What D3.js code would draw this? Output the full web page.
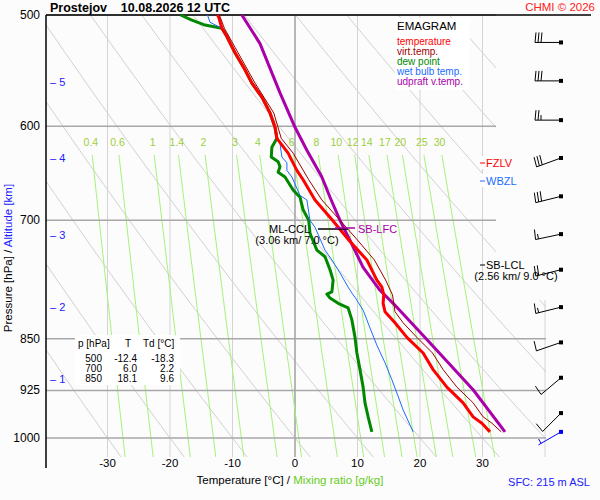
<!DOCTYPE html>
<html>
<head>
<meta charset="utf-8">
<script src="https://cdn.jsdelivr.net/npm/d3@7"></script>
<style>
  body { margin: 0; background: #fcfcfc; }
  text { font-family: "Liberation Sans", Arial, sans-serif; }
</style>
</head>
<body>
<div id="chart"></div>
<script>
// sounding (hPa / degC)
const tempP  = [500, 502, 511, 518, 532, 547, 559, 572, 587, 601, 612, 627, 645, 655, 677, 700, 723, 747, 772, 781, 791, 802, 813, 828, 848, 870, 894, 920, 944, 966, 976, 990];
const tempT  = [-12.4, -12.2, -11.7, -10.9, -9.6, -8.0, -6.9, -5.3, -4.0, -3.2, -2.9, -1.1, 0.3, 1.3, 3.2, 6.0, 8.6, 11.5, 13.1, 13.9, 14.2, 14.1, 14.4, 16.0, 17.9, 20.5, 22.1, 24.3, 26.9, 28.5, 29.9, 31.2];
const virtP  = [500, 511, 532, 559, 587, 612, 627, 655, 677, 700, 723, 747, 772, 791, 813, 828, 848, 870, 894, 920, 944, 966, 976, 990];
const virtT  = [-12.1, -11.3, -9.1, -6.4, -3.4, -2.2, -0.3, 2.2, 4.3, 7.2, 10.0, 12.7, 14.5, 15.6, 16.0, 17.3, 19.5, 22.0, 23.7, 25.9, 28.5, 30.1, 31.5, 33.0];
const dewP   = [500, 504, 508, 511, 518, 532, 547, 559, 572, 587, 601, 612, 621, 631, 636, 641, 647, 652, 666, 674, 688, 700, 715, 735, 743, 759, 772, 787, 790, 795, 802, 808, 824, 848, 870, 894, 920, 944, 966, 990];
const dewT   = [-18.3, -16.6, -14.6, -11.7, -10.9, -9.6, -8.0, -6.9, -5.3, -4.0, -3.2, -2.9, -3.7, -3.8, -2.7, -2.4, -2.7, -1.6, -0.3, 0.8, 1.3, 2.2, 2.4, 3.5, 4.8, 5.6, 6.1, 5.9, 5.1, 5.6, 6.9, 8.5, 9.1, 9.6, 9.9, 10.4, 10.9, 11.2, 11.7, 12.3];
const wetP   = [500, 506, 511, 518, 532, 547, 559, 572, 587, 601, 612, 617, 631, 637, 645, 652, 672, 677, 700, 708, 735, 747, 763, 781, 791, 794, 811, 835, 859, 884, 909, 929, 955, 990];
const wetT   = [-14.0, -13.6, -11.7, -10.9, -9.6, -8.0, -6.9, -5.3, -4.0, -3.2, -2.9, -2.4, -2.1, -1.3, -1.3, -0.5, 0.8, 1.9, 2.4, 3.2, 4.8, 5.9, 7.2, 8.5, 9.3, 9.6, 10.9, 12.0, 13.1, 14.4, 15.5, 16.3, 17.3, 18.9];
const parcelP = [500, 524, 568, 601, 624, 652, 674, 700, 731, 756, 785, 802, 851, 924, 990];
const parcelT = [-8.5, -5.6, -2.4, 0.0, 1.9, 4.3, 5.6, 7.2, 9.3, 10.9, 13.6, 15.7, 21.1, 28.5, 33.6];

// winds: pressure (hPa), direction (deg), speed (kt)
const windP   = [523, 557, 594, 632, 673, 716, 759, 807, 855, 906, 960, 990];
const windDir = [270, 270, 270, 250, 256, 258, 256, 256, 251, 230, 225, 240];
const windSpd = [30, 30, 25, 30, 30, 15, 20, 15, 10, 10, 10, 5];

const pLevels   = [500, 600, 700, 850, 925, 1000];
const tTicks    = [-30, -20, -10, 0, 10, 20, 30];
const mixRatios = [0.4, 0.6, 1, 1.4, 2, 3, 4, 6, 8, 10, 12, 14, 17, 20, 25, 30];
const altKm     = [5, 4, 3, 2, 1];
const altY      = [82, 158, 235, 307, 379];
const tableRows = [["500", "-12.4", "-18.3"], ["700", "6.0", "2.2"], ["850", "18.1", "9.6"]];
const legend = [["temperature", "#ff0000"], ["virt.temp.", "#a00000"], ["dew point", "#008800"],
                ["wet bulb temp.", "#1a6cff"], ["udpraft v.temp.", "#aa00aa"]];

const width = 600, height = 500;
const y = d3.scaleLog().domain([500, 1000]).range([15, 438]);
const x = d3.scaleLinear().domain([0, 10]).range([295, 357.5]);
const pBottom = y.invert(457);

const svg = d3.select("#chart").append("svg")
  .attr("width", width).attr("height", height);

svg.append("clipPath").attr("id", "plot")
  .append("polygon").attr("points", "46,15 496,15 496,300 546,300 546,457 46,457");

const grid = svg.append("g").attr("clip-path", "url(#plot)");

// dry adiabats
const pSteps = d3.range(480, 1041, 10);
const line = d3.line().x(d => x(d[0])).y(d => y(d[1]));
for (let th = -30; th <= 150; th += 10) {
  grid.append("path")
    .attr("d", line(pSteps.map(p => [(th + 273.15) * Math.pow(p / 1000, 0.286) - 273.15, p])))
    .attr("fill", "none").attr("stroke", "#d0d0d0").attr("stroke-width", 1);
}

// isotherms
for (let t = -40; t <= 40; t += 10) {
  grid.append("line")
    .attr("x1", x(t)).attr("x2", x(t)).attr("y1", 15).attr("y2", 457)
    .attr("stroke", t === 0 ? "#a0a0a0" : "#d4d4d4").attr("stroke-width", t === 0 ? 1.5 : 1);
}

// mixing ratio lines
function tdFromW(w, p) {
  const e = w * p / (622 + w), a = Math.log(e / 6.112);
  return 243.5 * a / (17.67 - a);
}
const pMixTop = y.invert(155);
mixRatios.forEach(w => {
  grid.append("path")
    .attr("d", line([pMixTop, 700, 850, pBottom].map(p => [tdFromW(w, p), p])))
    .attr("fill", "none").attr("stroke", "#a6f27a").attr("stroke-width", 1);
  svg.append("text")
    .attr("x", x(tdFromW(w, y.invert(142)))).attr("y", 146)
    .attr("text-anchor", "middle").attr("font-size", 10.5).attr("fill", "#9ccf3a")
    .text(w);
});

// pressure lines
pLevels.forEach(p => {
  svg.append("line")
    .attr("x1", 46).attr("x2", p >= 850 ? 546 : 496).attr("y1", y(p)).attr("y2", y(p))
    .attr("stroke", "#a8a8a8").attr("stroke-width", 1.5);
  svg.append("text").attr("x", 40).attr("y", y(p) + 4)
    .attr("text-anchor", "end").attr("font-size", 12).text(p);
});

// frame
svg.append("line").attr("x1", 46).attr("x2", 591).attr("y1", 15).attr("y2", 15).attr("stroke", "#000").attr("stroke-width", 1.5);
svg.append("line").attr("x1", 46).attr("x2", 46).attr("y1", 15).attr("y2", 468).attr("stroke", "#000").attr("stroke-width", 1.5);

tTicks.forEach(t => {
  svg.append("text").attr("x", x(t)).attr("y", 467).attr("text-anchor", "middle")
    .attr("font-size", 11.5).text(t);
});

altKm.forEach((k, i) => {
  svg.append("text").attr("x", 50).attr("y", altY[i] + 4).attr("font-size", 11)
    .attr("fill", "#2020ff").text("\u2013 " + k);
});

// profiles
const prof = d3.line().x(d => x(d[1])).y(d => y(d[0]));
const draw = (ps, ts, color, w) => svg.append("path")
  .attr("d", prof(d3.zip(ps, ts))).attr("fill", "none")
  .attr("stroke", color).attr("stroke-width", w).attr("stroke-linejoin", "round");
draw(dewP, dewT, "#008800", 3);
draw(wetP, wetT, "#1a6cff", 1);
draw(parcelP, parcelT, "#aa00aa", 3);
draw(tempP, tempT, "#ff0000", 3);
draw(virtP, virtT, "#a00000", 1);

// wind barbs
windP.forEach((p, i) => {
  const cy = y(p), cx = 561, d = windDir[i] * Math.PI / 180;
  const ux = Math.sin(d), uy = -Math.cos(d);
  const bx = -uy, by = ux;
  const col = i === windP.length - 1 ? "#0000ff" : "#000";
  const g = svg.append("g").attr("stroke", col).attr("fill", col);
  const L = 26;
  g.append("line").attr("x1", cx).attr("y1", cy).attr("x2", cx + ux * L).attr("y2", cy + uy * L);
  g.append("rect").attr("x", cx - 2).attr("y", cy - 2).attr("width", 4).attr("height", 4).attr("stroke", "none");
  let s = windSpd[i], pos = L;
  while (s >= 10) {
    const ax = cx + ux * pos, ay = cy + uy * pos;
    g.append("line").attr("x1", ax).attr("y1", ay).attr("x2", ax + bx * 10 - ux * 1).attr("y2", ay + by * 10 - uy * 1);
    s -= 10; pos -= 3;
  }
  if (s >= 5) {
    if (pos === L) pos -= 3;
    const ax = cx + ux * pos, ay = cy + uy * pos;
    g.append("line").attr("x1", ax).attr("y1", ay).attr("x2", ax + bx * 5).attr("y2", ay + by * 5);
  }
});

// annotations
const box = (x0, y0, w, h) => svg.append("rect").attr("x", x0).attr("y", y0).attr("width", w).attr("height", h).attr("fill", "#fff");
box(480, 156, 31, 13); box(480, 174, 33, 13);
svg.append("line").attr("x1", 480).attr("x2", 485).attr("y1", 163).attr("y2", 163).attr("stroke", "#f00");
svg.append("text").attr("x", 486).attr("y", 167).attr("font-size", 11).attr("fill", "#f00").text("FZLV");
svg.append("line").attr("x1", 480).attr("x2", 485).attr("y1", 181).attr("y2", 181).attr("stroke", "#1a6cff");
svg.append("text").attr("x", 486).attr("y", 185).attr("font-size", 11).attr("fill", "#1a6cff").text("WBZL");
svg.append("line").attr("x1", 480).attr("x2", 485).attr("y1", 265).attr("y2", 265).attr("stroke", "#000");
svg.append("text").attr("x", 486).attr("y", 269).attr("font-size", 11).text("SB-LCL");
svg.append("text").attr("x", 516).attr("y", 280).attr("font-size", 11).attr("text-anchor", "middle").text("(2.56 km/ 9.0 \u00b0C)");

svg.append("line").attr("x1", 318).attr("x2", 348).attr("y1", 229).attr("y2", 229).attr("stroke", "#000").attr("stroke-width", 1.5);
svg.append("text").attr("x", 310).attr("y", 233).attr("font-size", 11).attr("text-anchor", "end").text("ML-CCL");
svg.append("text").attr("x", 297).attr("y", 244).attr("font-size", 11).attr("text-anchor", "middle").text("(3.06 km/ 7.0 \u00b0C)");
svg.append("line").attr("x1", 335).attr("x2", 355).attr("y1", 228).attr("y2", 228).attr("stroke", "#aa00aa").attr("stroke-width", 1.5);
svg.append("text").attr("x", 358).attr("y", 233).attr("font-size", 11).attr("fill", "#aa00aa").text("SB-LFC");

// legend
box(395, 18, 75, 72);
svg.append("text").attr("x", 397).attr("y", 30).attr("font-size", 11.5).text("EMAGRAM");
legend.forEach((l, i) => svg.append("text").attr("x", 397).attr("y", 45 + i * 10)
  .attr("font-size", 10).attr("fill", l[1]).text(l[0]));

// table
box(75, 335, 105, 50);
const tg = svg.append("g").attr("font-size", 10);
tg.append("text").attr("x", 78).attr("y", 347).text("p [hPa]");
tg.append("text").attr("x", 128).attr("y", 347).attr("text-anchor", "middle").text("T");
tg.append("text").attr("x", 143).attr("y", 347).text("Td [\u00b0C]");
tableRows.forEach((r, i) => {
  const yy = 362 + i * 10;
  tg.append("text").attr("x", 102).attr("y", yy).attr("text-anchor", "end").text(r[0]);
  tg.append("text").attr("x", 137).attr("y", yy).attr("text-anchor", "end").text(r[1]);
  tg.append("text").attr("x", 174).attr("y", yy).attr("text-anchor", "end").text(r[2]);
});

// titles
svg.append("text").attr("x", 50).attr("y", 12).attr("font-size", 12.5).attr("font-weight", "bold")
  .attr("xml:space", "preserve").text("Prostejov    10.08.2026 12 UTC");
svg.append("text").attr("x", 595).attr("y", 11).attr("font-size", 11.5).attr("text-anchor", "end")
  .attr("fill", "#ff2020").text("CHMI \u00a9 2026");

const xl = svg.append("text").attr("x", 290).attr("y", 484).attr("font-size", 11.5).attr("text-anchor", "middle");
xl.append("tspan").text("Temperature [\u00b0C]  /  ");
xl.append("tspan").attr("fill", "#66cc22").text("Mixing ratio [g/kg]");
svg.append("text").attr("x", 590).attr("y", 486).attr("font-size", 11).attr("text-anchor", "end")
  .attr("fill", "#2020ff").text("SFC: 215 m ASL");

const yl = svg.append("text").attr("transform", "translate(12,258) rotate(-90)")
  .attr("font-size", 11.5).attr("text-anchor", "middle");
yl.append("tspan").text("Pressure [hPa]  /  ");
yl.append("tspan").attr("fill", "#2020ff").text("Altitude [km]");
</script>
</body>
</html>
